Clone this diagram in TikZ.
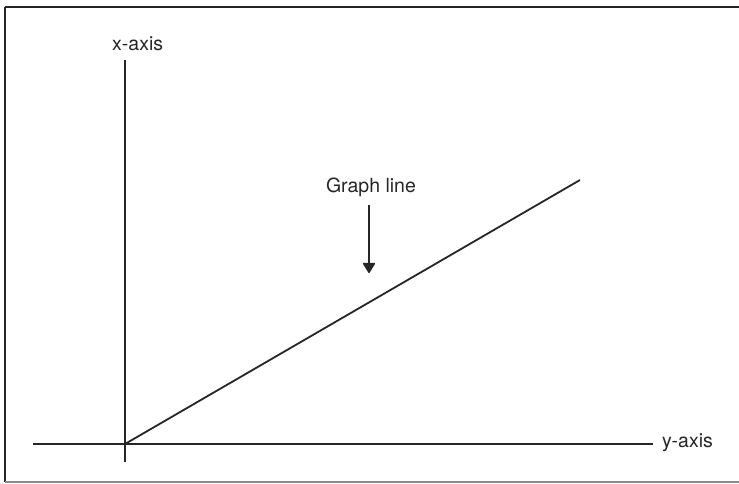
\documentclass[tikz,border=0pt]{standalone}
\usepackage{fontspec}
\setmainfont{TeX Gyre Heros}
\usetikzlibrary{arrows.meta}
\begin{document}
\begin{tikzpicture}[x=1pt,y=-1pt,
  axis/.style={line width=1.8pt, black!85},
  lbl/.style={font=\fontsize{19.5}{23}\selectfont, text=black!85, inner sep=0pt}]
\useasboundingbox (0,0) rectangle (739,484);
\fill[white] (0,0) rectangle (739,484);
\begin{scope}
\clip (0,0) rectangle (739,484);
\draw[line width=2.6pt, black!85] (5,7) -- (745,7);
\draw[line width=2.6pt, black!85] (5,7) -- (5,482);
\draw[line width=1.2pt, black!45] (5,482) -- (745,482);
\end{scope}
\coordinate (o) at (125,444);
\coordinate (xtop) at (125,60);
\coordinate (xbot) at (125,462);
\coordinate (yl) at (33,444);
\coordinate (yr) at (653,444);
\coordinate (gend) at (580,180);
\draw[axis] (xtop) -- (xbot);
\draw[axis] (yl) -- (yr);
\draw[axis] (o) -- (gend);
\node[lbl, anchor=base west] (xl) at (112,51) {x-axis};
\node[lbl, anchor=base west] (yla) at (662,447) {y-axis};
\node[lbl, anchor=base] (gl) at (371,192) {Graph line};
\coordinate (a1) at (369,205);
\coordinate (a2) at (369,273);
\draw[line width=1.6pt, black!85, -{Triangle[width=13pt,length=11pt,round]}] (a1) -- (a2);
\end{tikzpicture}
\end{document}
